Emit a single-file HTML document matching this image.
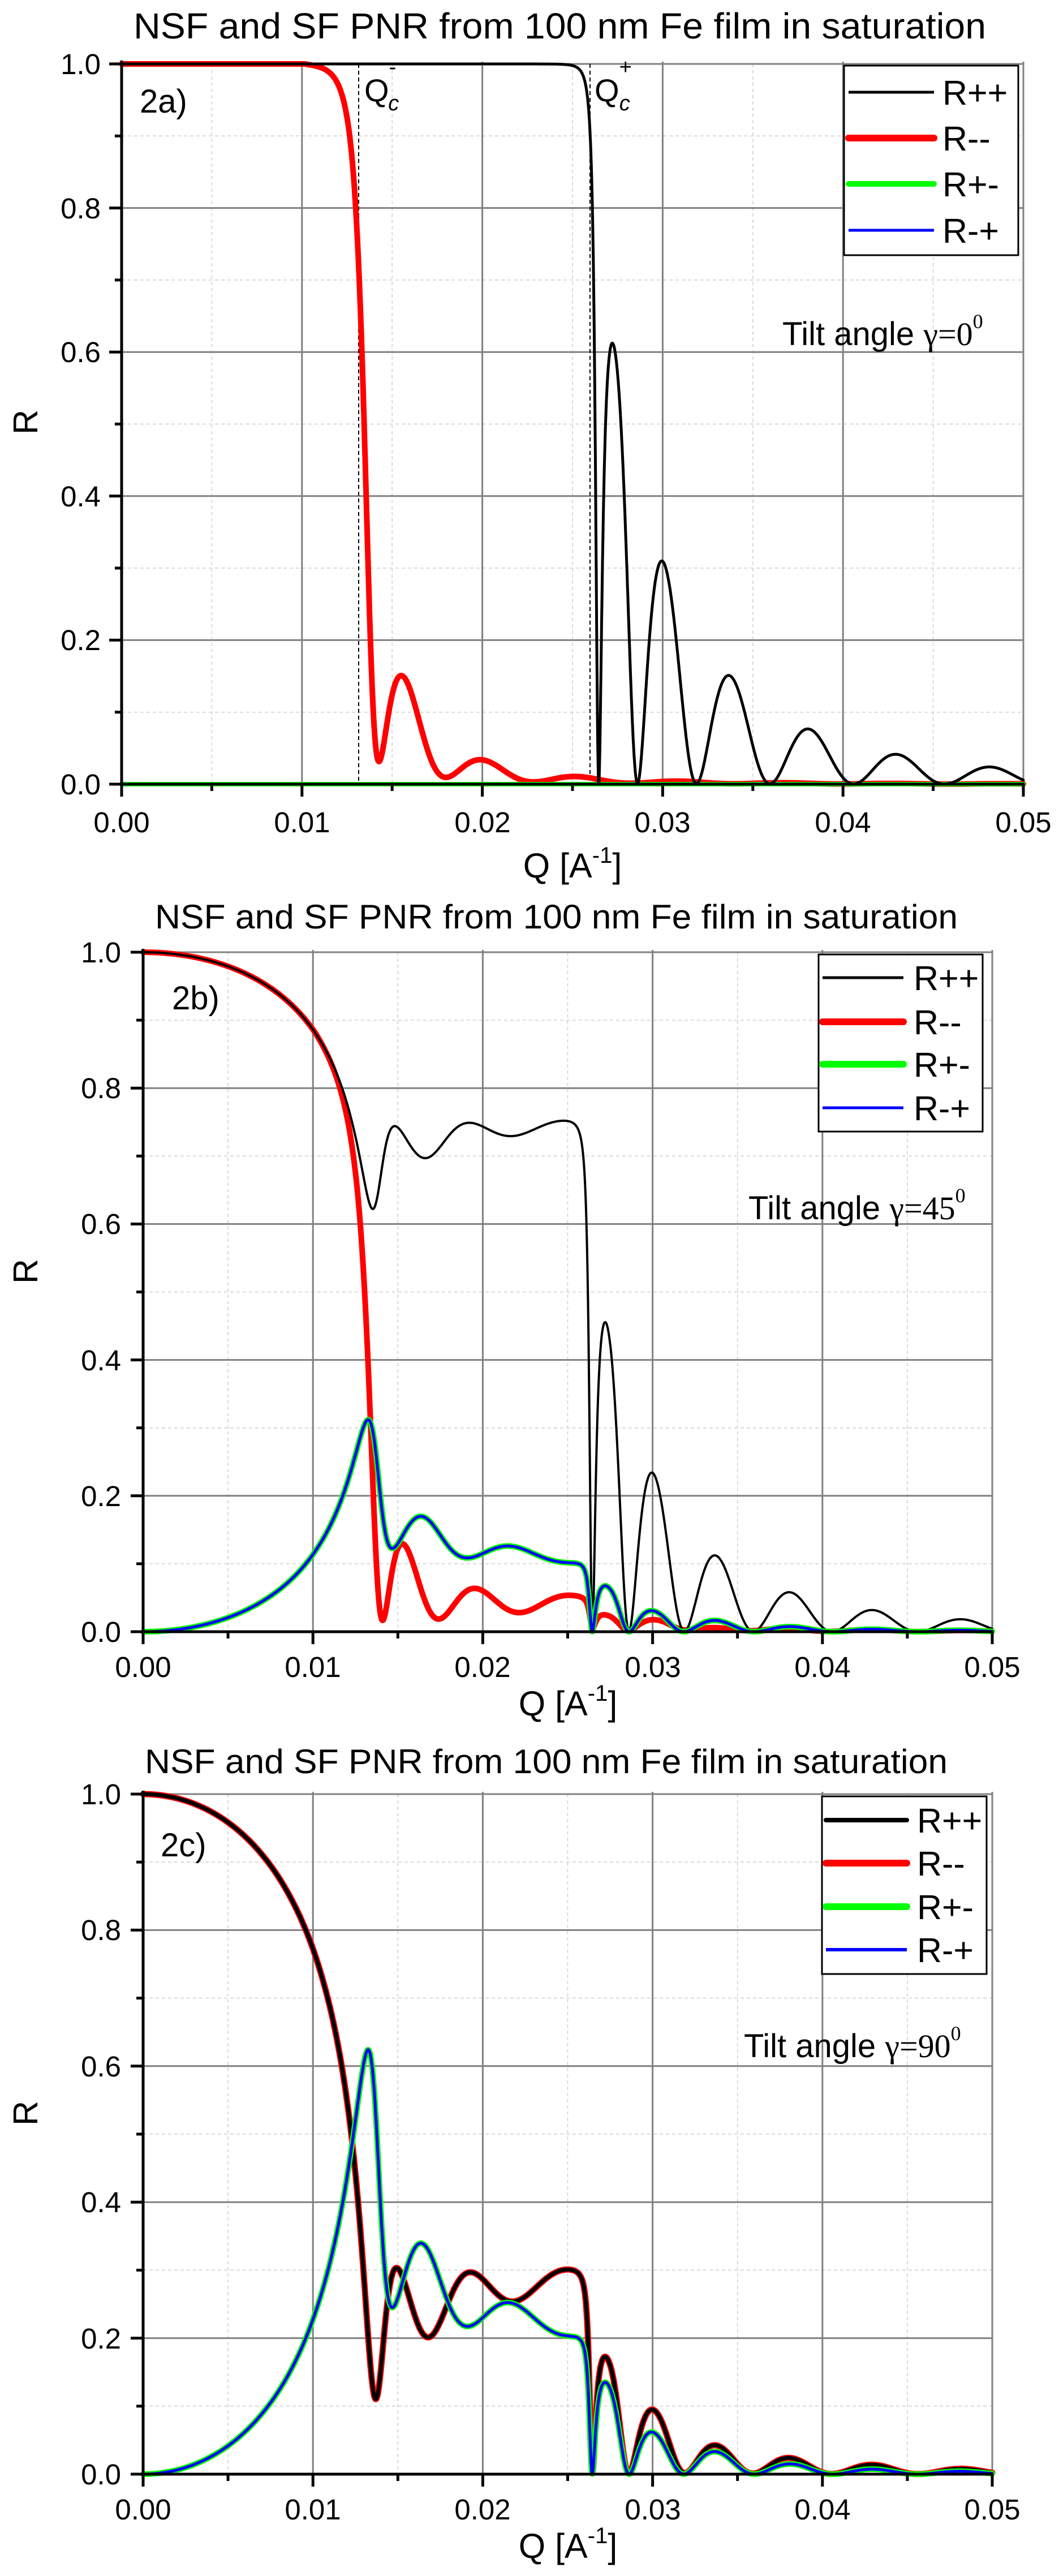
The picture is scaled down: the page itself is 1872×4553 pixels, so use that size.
<!DOCTYPE html>
<html><head><meta charset="utf-8"><style>
html,body{margin:0;padding:0;background:#fff;}
svg{display:block;}
text{font-family:"Liberation Sans",sans-serif;fill:#000;}
.s{font-family:"Liberation Serif",serif;}
</style></head><body>
<svg id="c" xmlns="http://www.w3.org/2000/svg" width="1872" height="4553" viewBox="0 0 1872 4553">
<rect width="1872" height="4553" fill="#fff"/>
<g id="grids"></g>
<g id="curves"></g>
<g id="axes"></g>
<!-- Panel A texts -->
<text x="236" y="68" font-size="64" textLength="1507" lengthAdjust="spacingAndGlyphs">NSF and SF PNR from 100 nm Fe film in saturation</text>
<text x="247" y="199" font-size="58">2a)</text>
<text x="644" y="179" font-size="56">Q<tspan font-size="38" dy="-48">-</tspan><tspan font-size="38" font-style="italic" dx="-14" dy="64">c</tspan></text>
<text x="1051" y="179" font-size="56">Q<tspan font-size="38" dy="-48">+</tspan><tspan font-size="38" font-style="italic" dx="-22" dy="64">c</tspan></text>
<text x="1383" y="610" font-size="58">Tilt angle <tspan class="s">γ=0</tspan><tspan class="s" font-size="36" dy="-30">0</tspan></text>
<text transform="translate(66,746) rotate(-90)" font-size="61" text-anchor="middle">R</text>
<text x="1012" y="1551" font-size="61" text-anchor="middle">Q [A<tspan font-size="40" dy="-26">-1</tspan><tspan dy="26">]</tspan></text>
<!-- Panel B texts -->
<text x="274" y="1641" font-size="60" textLength="1419" lengthAdjust="spacingAndGlyphs">NSF and SF PNR from 100 nm Fe film in saturation</text>
<text x="304" y="1784" font-size="58">2b)</text>
<text x="1323" y="2155" font-size="58">Tilt angle <tspan class="s">γ=45</tspan><tspan class="s" font-size="36" dy="-30">0</tspan></text>
<text transform="translate(66,2247) rotate(-90)" font-size="61" text-anchor="middle">R</text>
<text x="1004" y="3032" font-size="61" text-anchor="middle">Q [A<tspan font-size="40" dy="-26">-1</tspan><tspan dy="26">]</tspan></text>
<!-- Panel C texts -->
<text x="256" y="3134" font-size="60" textLength="1419" lengthAdjust="spacingAndGlyphs">NSF and SF PNR from 100 nm Fe film in saturation</text>
<text x="284" y="3281" font-size="58">2c)</text>
<text x="1315" y="3636" font-size="58">Tilt angle <tspan class="s">γ=90</tspan><tspan class="s" font-size="36" dy="-30">0</tspan></text>
<text transform="translate(66,3735) rotate(-90)" font-size="61" text-anchor="middle">R</text>
<text x="1004" y="4521" font-size="61" text-anchor="middle">Q [A<tspan font-size="40" dy="-26">-1</tspan><tspan dy="26">]</tspan></text>
<!-- tick labels -->
<g font-size="51">
<text x="178" y="131" text-anchor="end">1.0</text><text x="178" y="386" text-anchor="end">0.8</text><text x="178" y="640" text-anchor="end">0.6</text><text x="178" y="895" text-anchor="end">0.4</text><text x="178" y="1149" text-anchor="end">0.2</text><text x="178" y="1404" text-anchor="end">0.0</text>
<text x="215" y="1471" text-anchor="middle">0.00</text><text x="534" y="1471" text-anchor="middle">0.01</text><text x="853" y="1471" text-anchor="middle">0.02</text><text x="1171" y="1471" text-anchor="middle">0.03</text><text x="1490" y="1471" text-anchor="middle">0.04</text><text x="1809" y="1471" text-anchor="middle">0.05</text>
<text x="214" y="1701" text-anchor="end">1.0</text><text x="214" y="1941" text-anchor="end">0.8</text><text x="214" y="2181" text-anchor="end">0.6</text><text x="214" y="2422" text-anchor="end">0.4</text><text x="214" y="2662" text-anchor="end">0.2</text><text x="214" y="2902" text-anchor="end">0.0</text>
<text x="253" y="2964" text-anchor="middle">0.00</text><text x="553" y="2964" text-anchor="middle">0.01</text><text x="853" y="2964" text-anchor="middle">0.02</text><text x="1154" y="2964" text-anchor="middle">0.03</text><text x="1454" y="2964" text-anchor="middle">0.04</text><text x="1754" y="2964" text-anchor="middle">0.05</text>
<text x="214" y="3189" text-anchor="end">1.0</text><text x="214" y="3429" text-anchor="end">0.8</text><text x="214" y="3670" text-anchor="end">0.6</text><text x="214" y="3910" text-anchor="end">0.4</text><text x="214" y="4151" text-anchor="end">0.2</text><text x="214" y="4391" text-anchor="end">0.0</text>
<text x="253" y="4453" text-anchor="middle">0.00</text><text x="553" y="4453" text-anchor="middle">0.01</text><text x="853" y="4453" text-anchor="middle">0.02</text><text x="1154" y="4453" text-anchor="middle">0.03</text><text x="1454" y="4453" text-anchor="middle">0.04</text><text x="1754" y="4453" text-anchor="middle">0.05</text>
</g>
<!-- legends -->
<g id="legA">
<rect x="1492" y="116" width="308" height="335" fill="#fff" stroke="#000" stroke-width="3"/>
<line x1="1500" y1="163" x2="1651" y2="163" stroke="#000" stroke-width="5"/>
<line x1="1500" y1="244" x2="1651" y2="244" stroke="#f00" stroke-width="12" stroke-linecap="round"/>
<line x1="1500" y1="325" x2="1651" y2="325" stroke="#0f0" stroke-width="10" stroke-linecap="round"/>
<line x1="1500" y1="407" x2="1651" y2="407" stroke="#00f" stroke-width="5"/>
<g font-size="61"><text x="1666" y="185">R++</text><text x="1666" y="266">R--</text><text x="1666" y="347">R+-</text><text x="1666" y="429">R-+</text></g>
</g>
<g>
<rect x="1447" y="1687" width="290" height="313" fill="#fff" stroke="#000" stroke-width="3"/>
<line x1="1454" y1="1728" x2="1597" y2="1728" stroke="#000" stroke-width="5"/>
<line x1="1454" y1="1806" x2="1597" y2="1806" stroke="#f00" stroke-width="12" stroke-linecap="round"/>
<line x1="1454" y1="1881" x2="1597" y2="1881" stroke="#0f0" stroke-width="12" stroke-linecap="round"/>
<line x1="1454" y1="1958" x2="1597" y2="1958" stroke="#00f" stroke-width="5"/>
<g font-size="61"><text x="1615" y="1750">R++</text><text x="1615" y="1828">R--</text><text x="1615" y="1903">R+-</text><text x="1615" y="1980">R-+</text></g>
</g>
<g>
<rect x="1453" y="3175" width="291" height="314" fill="#fff" stroke="#000" stroke-width="3"/>
<line x1="1460" y1="3217" x2="1603" y2="3217" stroke="#000" stroke-width="8" stroke-linecap="round"/>
<line x1="1460" y1="3293" x2="1603" y2="3293" stroke="#f00" stroke-width="12" stroke-linecap="round"/>
<line x1="1460" y1="3370" x2="1603" y2="3370" stroke="#0f0" stroke-width="12" stroke-linecap="round"/>
<line x1="1460" y1="3446" x2="1603" y2="3446" stroke="#00f" stroke-width="6"/>
<g font-size="61"><text x="1621" y="3239">R++</text><text x="1621" y="3315">R--</text><text x="1621" y="3392">R+-</text><text x="1621" y="3468">R-+</text></g>
</g>
</svg>
<script>
(function(){
var NS="http://www.w3.org/2000/svg";
var grids=document.getElementById('grids'),curves=document.getElementById('curves'),axes=document.getElementById('axes');
function el(p,tag,a){var e=document.createElementNS(NS,tag);for(var k in a)e.setAttribute(k,a[k]);p.appendChild(e);return e;}
function csqrt(a,b){var r=Math.hypot(a,b);var re=Math.sqrt(Math.max(0,(r+a)/2));var im=Math.sqrt(Math.max(0,(r-a)/2));if(b<0)im=-im;return [re,im];}
function add(x,y){return [x[0]+y[0],x[1]+y[1]];}
function sub(x,y){return [x[0]-y[0],x[1]-y[1]];}
function mul(x,y){return [x[0]*y[0]-x[1]*y[1],x[0]*y[1]+x[1]*y[0]];}
function div(x,y){var d=y[0]*y[0]+y[1]*y[1];return [(x[0]*y[0]+x[1]*y[1])/d,(x[1]*y[0]-x[0]*y[1])/d];}
function sc(x,s){return [x[0]*s,x[1]*s];}
var QcS=0.0102,d=1000;
function refl(Q,Qc){
 var eps=1e-9;
 var q0=[Q,0];
 var q1=csqrt(Q*Q-Qc*Qc,eps);
 var q2=csqrt(Q*Q-QcS*QcS,eps*0.3);
 var r01=div(sub(q0,q1),add(q0,q1));
 var r12=div(sub(q1,q2),add(q1,q2));
 var E=sc([Math.cos(q1[0]*d),Math.sin(q1[0]*d)],Math.exp(-q1[1]*d));
 var t=mul(r12,E);
 return div(add(r01,t),add([1,0],mul(r01,t)));
}
function abs2(x){return x[0]*x[0]+x[1]*x[1];}
var panels=[
 {L:215,R:1809,T:113,B:1386,g:0,qc:true,
  st:[['mm','#f00',10],['pm','#0f0',8],['mp','#00f',5],['pp','#000',5]]},
 {L:253,R:1754,T:1683,B:2884,g:45,
  st:[['mm','#f00',10],['pp','#000',4],['pm','#0f0',10],['mp','#00f',5]]},
 {L:253,R:1754,T:3171,B:4373,g:90,
  st:[['mm','#f00',11],['pp','#000',7],['pm','#0f0',10],['mp','#00f',5]]}
];
panels.forEach(function(P){
 var L=P.L,R=P.R,T=P.T,B=P.B,W=R-L,H=B-T;
 function X(q){return L+q/0.05*W;} function Y(v){return B-v*H;}
 for(var i=1;i<10;i+=2){el(grids,'line',{x1:X(i*0.005),y1:T,x2:X(i*0.005),y2:B,stroke:'#cfcfcf','stroke-width':1.5,'stroke-dasharray':'6,5'});
  el(grids,'line',{x1:L,y1:Y(i*0.1),x2:R,y2:Y(i*0.1),stroke:'#cfcfcf','stroke-width':1.5,'stroke-dasharray':'6,5'});}
 for(var i=1;i<=5;i++){el(grids,'line',{x1:X(i*0.01),y1:T-4,x2:X(i*0.01),y2:B,stroke:'#808080','stroke-width':3});
  el(grids,'line',{x1:L,y1:Y(i*0.2),x2:R,y2:Y(i*0.2),stroke:'#808080','stroke-width':3});}
 if(P.qc){
  el(grids,'line',{x1:634,y1:T,x2:634,y2:B,stroke:'#000','stroke-width':2,'stroke-dasharray':'7,5'});
  el(grids,'line',{x1:1043,y1:T,x2:1043,y2:B,stroke:'#000','stroke-width':2,'stroke-dasharray':'7,5'});
 }
 var g=P.g*Math.PI/180,c=Math.cos(g/2),s=Math.sin(g/2);
 var pts={pp:[],mm:[],pm:[],mp:[]};
 var N=3000;
 for(var i=0;i<=N;i++){
  var Q=Math.max(1e-6,0.05*i/N);
  var rp=refl(Q,0.0257),rm=refl(Q,0.0128);
  var rpp=add(sc(rp,c*c),sc(rm,s*s)),rmm=add(sc(rp,s*s),sc(rm,c*c)),rpm=sc(sub(rp,rm),c*s);
  var v={pp:abs2(rpp),mm:abs2(rmm),pm:abs2(rpm)};v.mp=v.pm;
  for(var k in pts){var y=Math.min(1,Math.max(0,v[k]));pts[k].push(X(0.05*i/N).toFixed(1)+','+Y(y).toFixed(1));}
 }
 P.st.forEach(function(st){el(curves,'polyline',{points:pts[st[0]].join(' '),fill:'none',stroke:st[1],'stroke-width':st[2],'stroke-linejoin':'round','stroke-linecap':'round'});});
 el(axes,'line',{x1:L,y1:T-6,x2:L,y2:B+2,stroke:'#000','stroke-width':5});
 el(axes,'line',{x1:L-2,y1:B,x2:R+2,y2:B,stroke:'#000','stroke-width':5});
 for(var i=0;i<=10;i++){var x=X(i*0.005),len=(i%2==0)?22:12;el(axes,'line',{x1:x,y1:B,x2:x,y2:B+len,stroke:'#000','stroke-width':5});
  var y=Y(i*0.1);el(axes,'line',{x1:L,y1:y,x2:L-len,y2:y,stroke:'#000','stroke-width':5});}
});
})();
</script>
</body></html>
